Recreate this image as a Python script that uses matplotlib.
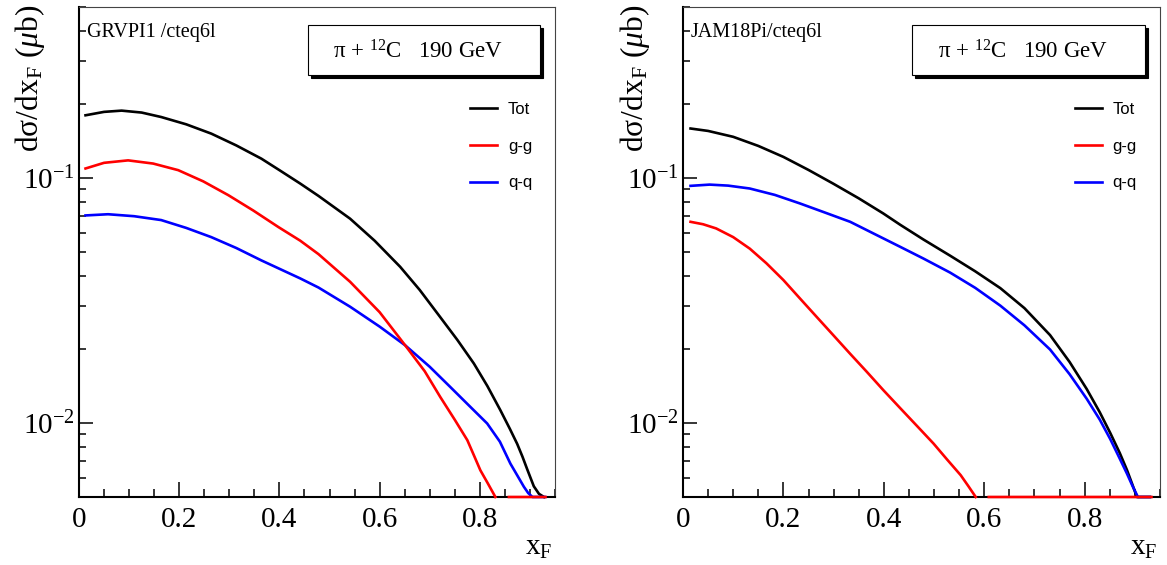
import numpy as np
import matplotlib
matplotlib.use("Agg")
import matplotlib.pyplot as plt
from matplotlib.patches import Rectangle
from matplotlib.ticker import MultipleLocator, LogLocator, NullFormatter, FuncFormatter

plt.rcParams['font.family'] = ['Liberation Serif', 'DejaVu Serif']
plt.rcParams['mathtext.fontset'] = 'custom'
plt.rcParams['mathtext.rm'] = 'Liberation Serif'
plt.rcParams['mathtext.it'] = 'Liberation Serif:italic'
plt.rcParams['mathtext.bf'] = 'Liberation Serif:bold'

YMIN, YMAX = 0.005, 0.5
XMIN, XMAX = 0.0, 0.95

# ---- GRVPI1 / cteq6l (left panel) ----
grv_tot_x = [0.013, 0.05, 0.085, 0.125, 0.164, 0.214, 0.264, 0.314, 0.364, 0.40, 0.4416, 0.478,
             0.541, 0.59, 0.641, 0.68, 0.721, 0.755, 0.788, 0.815, 0.841, 0.86, 0.8745, 0.885,
             0.8945, 0.9077, 0.918, 0.928]
grv_tot_y = [0.1807, 0.1866, 0.1888, 0.1854, 0.1778, 0.1660, 0.1521, 0.1361, 0.1202, 0.1079,
             0.0951, 0.0847, 0.0684, 0.0556, 0.0435, 0.0350, 0.0271, 0.0219, 0.01754, 0.01419,
             0.01130, 0.00948, 0.00824, 0.00731, 0.00649, 0.00553, 0.00515, 0.0049]

grv_gg_x = [0.013, 0.05, 0.098, 0.148, 0.198, 0.248, 0.298, 0.348, 0.398, 0.4416, 0.478, 0.541,
            0.6, 0.651, 0.69, 0.721, 0.75, 0.775, 0.788, 0.801, 0.816, 0.831, 0.845, 0.858, 0.931]
grv_gg_y = [0.1096, 0.1156, 0.1183, 0.1148, 0.1079, 0.0971, 0.0853, 0.0738, 0.0632, 0.0556,
            0.0490, 0.0378, 0.0284, 0.0208, 0.0163, 0.0128, 0.01033, 0.00853, 0.00741, 0.00643,
            0.00568, 0.0049, 0.0, 0.003, 0.003]

grv_qq_x = [0.013, 0.058, 0.11, 0.164, 0.214, 0.264, 0.314, 0.364, 0.4416, 0.478, 0.541, 0.6,
            0.651, 0.7, 0.741, 0.78, 0.8146, 0.84, 0.861, 0.875, 0.888, 0.8965, 0.905, 0.93]
grv_qq_y = [0.0705, 0.0713, 0.0700, 0.0675, 0.0627, 0.0575, 0.0519, 0.0462, 0.0390, 0.0358,
            0.0299, 0.0248, 0.0208, 0.0170, 0.01406, 0.01172, 0.00998, 0.00841, 0.00684, 0.00611,
            0.0055, 0.00519, 0.0049, 0.004]

# ---- JAM18Pi / cteq6l (right panel) ----
jam_tot_x = [0.015, 0.05, 0.1, 0.15, 0.2, 0.25, 0.299, 0.35, 0.399, 0.4325, 0.479, 0.532, 0.582,
             0.632, 0.68, 0.731, 0.77, 0.804, 0.83, 0.851, 0.87, 0.884, 0.895, 0.904, 0.93]
jam_tot_y = [0.1596, 0.1560, 0.1476, 0.1355, 0.1222, 0.1081, 0.0951, 0.0828, 0.0718, 0.0646,
             0.0562, 0.0483, 0.0417, 0.0356, 0.0295, 0.0229, 0.01778, 0.01380, 0.01109, 0.00912,
             0.00755, 0.00646, 0.00562, 0.0049, 0.004]

jam_gg_x = [0.015, 0.04, 0.066, 0.1, 0.133, 0.166, 0.2, 0.233, 0.266, 0.3, 0.333, 0.366, 0.399,
            0.4325, 0.466, 0.499, 0.526, 0.553, 0.568, 0.583, 0.596, 0.609, 0.933]
jam_gg_y = [0.0664, 0.0649, 0.0624, 0.0575, 0.0516, 0.0450, 0.0384, 0.0323, 0.0272, 0.0228,
            0.0192, 0.01622, 0.01365, 0.01153, 0.00975, 0.00826, 0.00711, 0.00614, 0.00555,
            0.0049, 0.0, 0.003, 0.003]

jam_qq_x = [0.015, 0.053, 0.09, 0.133, 0.183, 0.233, 0.283, 0.333, 0.383, 0.4325, 0.479, 0.532,
            0.582, 0.632, 0.68, 0.731, 0.77, 0.804, 0.83, 0.851, 0.87, 0.884, 0.895, 0.906, 0.93]
jam_qq_y = [0.0931, 0.0942, 0.0933, 0.0908, 0.0855, 0.0789, 0.0724, 0.0664, 0.0590, 0.0525,
            0.0470, 0.0412, 0.0357, 0.0302, 0.0251, 0.0200, 0.01585, 0.01259, 0.01035, 0.00861,
            0.00716, 0.00624, 0.00556, 0.0049, 0.004]

panel_titles = ['GRVPI1 /cteq6l', 'JAM18Pi/cteq6l']
legend_labels = ['Tot', 'g-g', 'q-q']
beam_text = 'π + $^{12}$C   190 GeV'
ylab = 'dσ/dx$_{\\mathrm{F}}$ ($\\mu$b)'


def root_clip(y):
    # ROOT draws values below the frame minimum on the x axis and skips zeros
    y = np.asarray(y, dtype=float)
    return np.where(y > 0, np.maximum(y, YMIN), np.nan)


def draw_panel(ax, title, tot, gg, qq):
    ax.set_yscale('log')
    ax.set_xlim(XMIN, XMAX)
    ax.set_ylim(YMIN, YMAX)

    lw = 1.9
    l_tot, = ax.plot(tot[0], root_clip(tot[1]), color='black', lw=lw, clip_on=False, zorder=3)
    l_qq, = ax.plot(qq[0], root_clip(qq[1]), color='blue', lw=lw, clip_on=False, zorder=3)
    l_gg, = ax.plot(gg[0], root_clip(gg[1]), color='red', lw=lw, clip_on=False, zorder=3)

    # axes styling
    ax.xaxis.set_major_locator(MultipleLocator(0.2))
    ax.xaxis.set_minor_locator(MultipleLocator(0.05))
    ax.xaxis.set_major_formatter(FuncFormatter(lambda v, p: '0' if abs(v) < 1e-9 else '%.1f' % v))
    ax.yaxis.set_minor_locator(LogLocator(base=10, subs=np.arange(2, 10)))
    ax.yaxis.set_minor_formatter(NullFormatter())
    ax.tick_params(which='both', direction='in', top=False, right=False, width=1.1, labelsize=21)
    ax.tick_params(axis='x', which='major', length=10.8, pad=7)
    ax.tick_params(axis='x', which='minor', length=5.8)
    ax.tick_params(axis='y', which='major', length=10, pad=3)
    ax.tick_params(axis='y', which='minor', length=5)
    for side in ['left', 'bottom']:
        ax.spines[side].set_linewidth(1.5)
    for side in ['top', 'right']:
        ax.spines[side].set_linewidth(0.8)
        ax.spines[side].set_color('#444444')

    ax.text(0.017, 0.939, title, transform=ax.transAxes, fontsize=14.5, va='baseline')

    # beam label box with shadow
    off_x, off_y = 3.0 / 476, 3.0 / 490
    ax.add_patch(Rectangle((0.481 + off_x, 0.861 - off_y), 0.487, 0.102, transform=ax.transAxes,
                           facecolor='black', edgecolor='black', lw=0.8, zorder=4))
    ax.add_patch(Rectangle((0.481, 0.861), 0.487, 0.102, transform=ax.transAxes,
                           facecolor='white', edgecolor='black', lw=0.8, zorder=5))
    ax.text(0.712, 0.894, beam_text, transform=ax.transAxes, fontsize=16.5, ha='center',
            va='baseline', zorder=6)

    ax.legend([l_tot, l_gg, l_qq], legend_labels, loc='upper left', bbox_to_anchor=(0.821, 0.806),
              frameon=False, borderpad=0, borderaxespad=0, handlelength=1.62, handletextpad=0.66,
              labelspacing=1.3, prop={'family': 'Liberation Sans', 'size': 12})

    ax.text(0.995, -0.118, r'x$_{\mathrm{F}}$', transform=ax.transAxes, fontsize=21,
            ha='right', va='baseline')


fig = plt.figure(figsize=(11.67, 5.65), dpi=100)
ax_l = fig.add_axes([79 / 1167, 68 / 565, 476 / 1167, 490 / 565])
ax_r = fig.add_axes([683 / 1167, 68 / 565, 477 / 1167, 490 / 565])

draw_panel(ax_l, panel_titles[0], (grv_tot_x, grv_tot_y), (grv_gg_x, grv_gg_y), (grv_qq_x, grv_qq_y))
draw_panel(ax_r, panel_titles[1], (jam_tot_x, jam_tot_y), (jam_gg_x, jam_gg_y), (jam_qq_x, jam_qq_y))

fig.text(30 / 1167, 1 - 5 / 565, ylab, rotation=90, ha='center', va='top', fontsize=22.7)
fig.text(635 / 1167, 1 - 5 / 565, ylab, rotation=90, ha='center', va='top', fontsize=22.7)

fig.savefig('out.png', dpi=100)
